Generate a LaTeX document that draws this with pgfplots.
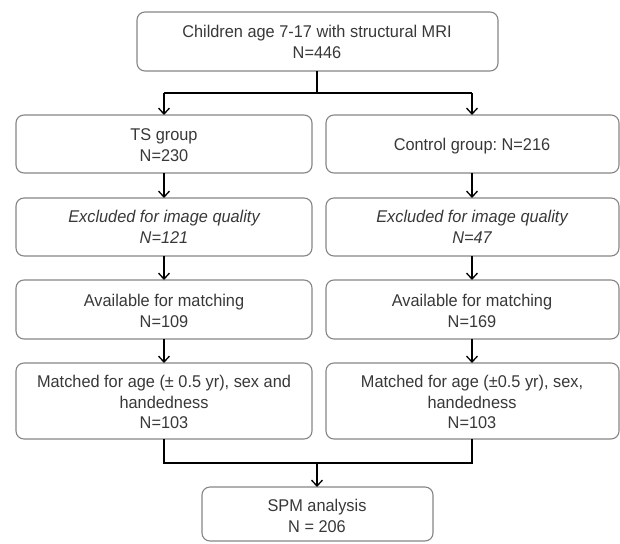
\documentclass[border=0pt]{standalone}
\usepackage{fontspec}
\setmainfont{Liberation Sans}[FakeStretch=0.96]
\usepackage{pgfplots}
\pgfplotsset{compat=1.18}
\usetikzlibrary{arrows.meta}
\definecolor{boxcol}{HTML}{858585}
\definecolor{txtcol}{HTML}{383838}
\frenchspacing

% rounded box from pgfplots coordinates: x1,y1,x2,y2
\newcommand{\flowbox}[4]{%
  \addplot[boxcol, line width=1.1pt, rounded corners=8pt, mark=none]
    coordinates {({(#1+#3)/2},#2) (#3,#2) (#3,#4) (#1,#4) (#1,#2) ({(#1+#3)/2},#2)};
}
\newcommand{\flowtext}[3]{%
  \node[txtcol, align=center, font=\fontsize{17}{20.5}\selectfont] at (axis cs:#1,#2) {#3};
}

\begin{document}
\begin{tikzpicture}
\begin{axis}[
  hide axis, scale only axis,
  width=620pt, height=543pt,
  xmin=0, xmax=620, ymin=0, ymax=543,
  y dir=reverse, clip=false,
  every axis plot/.append style={mark=none},
  arr/.style={black, line width=1.3pt, -{Straight Barb[length=6pt,width=11pt]}},
  lin/.style={black, line width=1.3pt},
]
  % keep the page size
  \addplot[draw=none] coordinates {(0,0) (620,543)};

  % boxes
  \flowbox{137}{12}{498}{71}
  \flowbox{16}{115}{312}{173}
  \flowbox{326}{115}{619}{173}
  \flowbox{16}{198}{312}{256}
  \flowbox{326}{198}{619}{256}
  \flowbox{16}{280}{312}{339}
  \flowbox{326}{280}{619}{339}
  \flowbox{16}{363}{312}{439}
  \flowbox{326}{363}{619}{439}
  \flowbox{202}{487}{433}{541}

  % connectors
  \addplot[lin] coordinates {(317,71) (317,93)};
  \addplot[lin] coordinates {(164,93) (472,93)};
  \addplot[arr] coordinates {(164,93) (164,115)};
  \addplot[arr] coordinates {(472,93) (472,115)};
  \addplot[arr] coordinates {(164,173) (164,198)};
  \addplot[arr] coordinates {(472,173) (472,198)};
  \addplot[arr] coordinates {(164,256) (164,280)};
  \addplot[arr] coordinates {(472,256) (472,280)};
  \addplot[arr] coordinates {(164,339) (164,363)};
  \addplot[arr] coordinates {(472,339) (472,363)};
  \addplot[lin] coordinates {(164,439) (164,463) (472,463) (472,439)};
  \addplot[arr] coordinates {(317,463) (317,487)};

  % texts
  \flowtext{317}{42}{Children age 7-17 with structural MRI\\N=446}
  \flowtext{164}{145}{TS group\\N=230}
  \flowtext{472}{146}{Control group: N=216}
  \flowtext{164}{227}{\itshape Excluded for image quality\\\itshape N=121}
  \flowtext{472}{227}{\itshape Excluded for image quality\\\itshape N=47}
  \flowtext{164}{311}{Available for matching\\N=109}
  \flowtext{472}{311}{Available for matching\\N=169}
  \flowtext{164}{402}{Matched for age (± 0.5 yr), sex and\\handedness\\N=103}
  \flowtext{472}{402}{Matched for age (±0.5 yr), sex,\\handedness\\N=103}
  \flowtext{317}{516}{SPM analysis\\N = 206}
\end{axis}
\end{tikzpicture}
\end{document}
